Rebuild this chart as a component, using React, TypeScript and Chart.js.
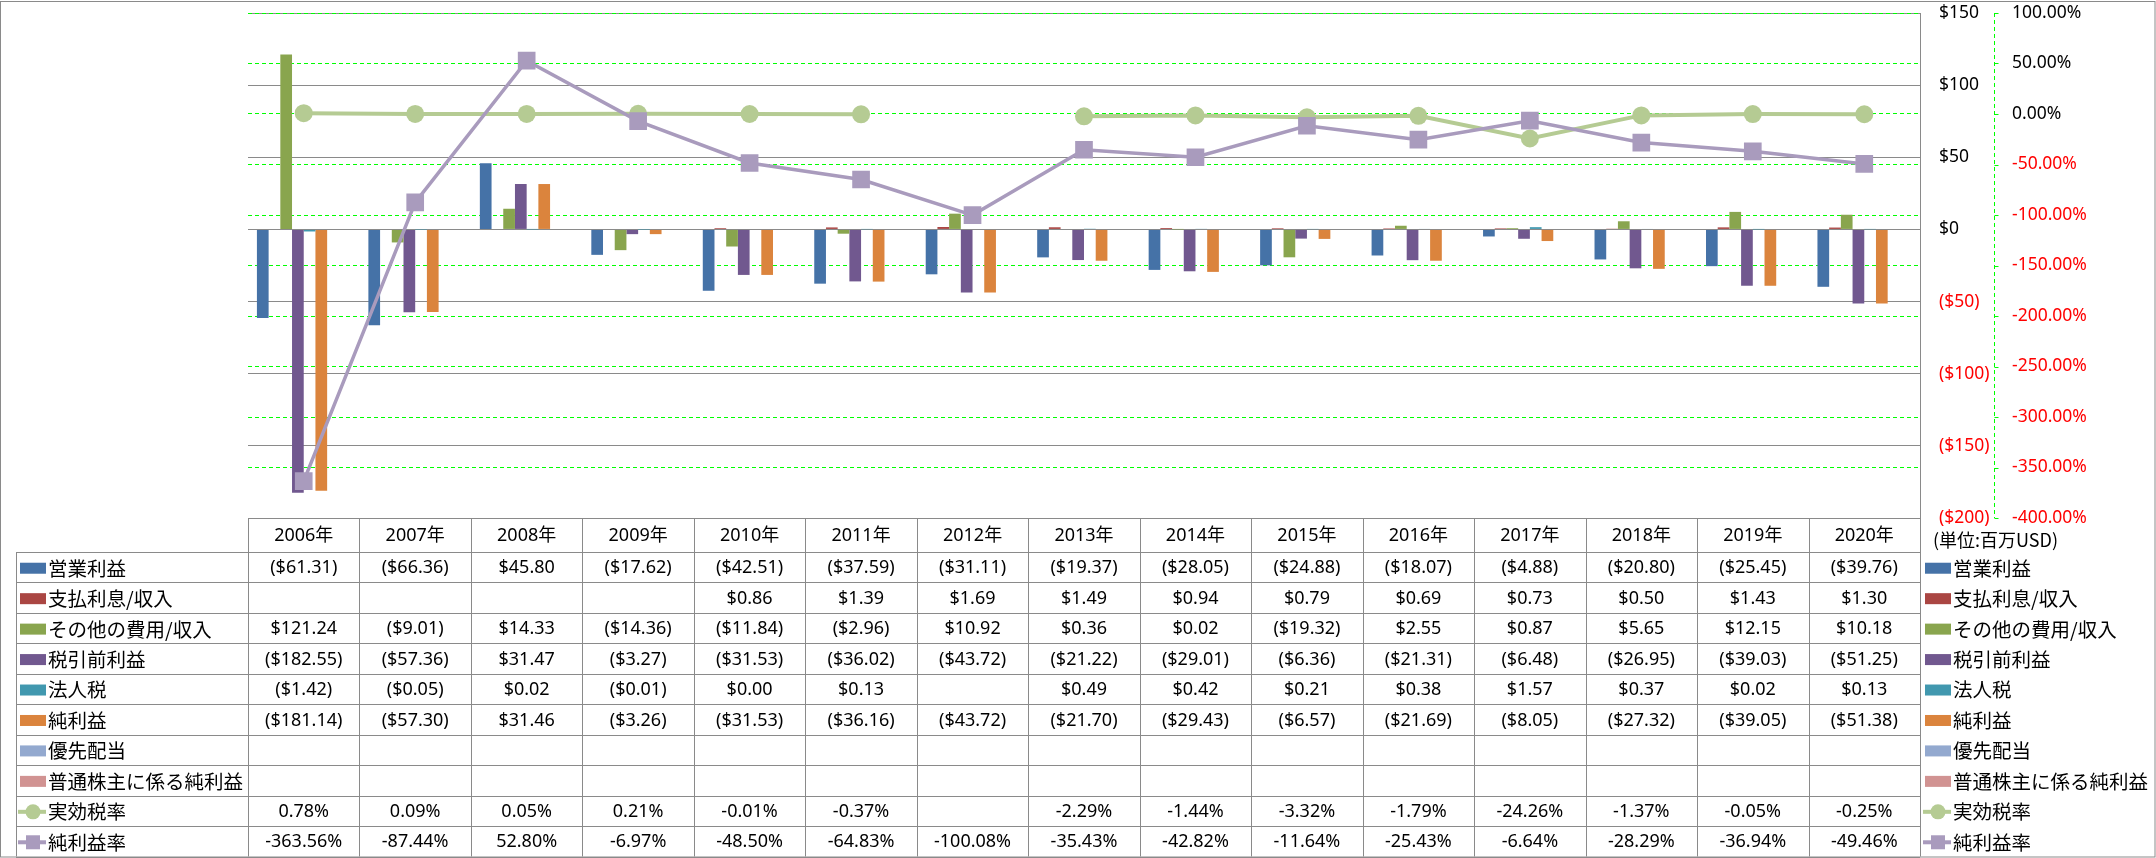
import React, { useEffect, useRef } from 'react';
import { Chart, registerables } from 'chart.js';

Chart.register(...registerables);

// ---------- data ----------
const years = ['2006年', '2007年', '2008年', '2009年', '2010年', '2011年', '2012年', '2013年', '2014年', '2015年', '2016年', '2017年', '2018年', '2019年', '2020年'];

const operatingIncome = [-61.31, -66.36, 45.80, -17.62, -42.51, -37.59, -31.11, -19.37, -28.05, -24.88, -18.07, -4.88, -20.80, -25.45, -39.76];
const interestExpense = [null, null, null, null, 0.86, 1.39, 1.69, 1.49, 0.94, 0.79, 0.69, 0.73, 0.50, 1.43, 1.30];
const otherIncome = [121.24, -9.01, 14.33, -14.36, -11.84, -2.96, 10.92, 0.36, 0.02, -19.32, 2.55, 0.87, 5.65, 12.15, 10.18];
const pretaxIncome = [-182.55, -57.36, 31.47, -3.27, -31.53, -36.02, -43.72, -21.22, -29.01, -6.36, -21.31, -6.48, -26.95, -39.03, -51.25];
const incomeTax = [-1.42, -0.05, 0.02, -0.01, 0.00, 0.13, null, 0.49, 0.42, 0.21, 0.38, 1.57, 0.37, 0.02, 0.13];
const netIncome = [-181.14, -57.30, 31.46, -3.26, -31.53, -36.16, -43.72, -21.70, -29.43, -6.57, -21.69, -8.05, -27.32, -39.05, -51.38];
const preferredDividends = [null, null, null, null, null, null, null, null, null, null, null, null, null, null, null];
const netIncomeToCommon = [null, null, null, null, null, null, null, null, null, null, null, null, null, null, null];
const effectiveTaxRate = [0.78, 0.09, 0.05, 0.21, -0.01, -0.37, null, -2.29, -1.44, -3.32, -1.79, -24.26, -1.37, -0.05, -0.25];
const netMargin = [-363.56, -87.44, 52.80, -6.97, -48.50, -64.83, -100.08, -35.43, -42.82, -11.64, -25.43, -6.64, -28.29, -36.94, -49.46];

const usdAxis = { min: -200, max: 150, step: 50 };
const pctAxis = { min: -400, max: 100, step: 50 };
const unitLabel = '(単位:百万USD)';

// ---------- styles ----------
const LATIN = '"Noto Sans", "Noto Sans CJK JP", sans-serif';
const CJK = '"Noto Sans CJK JP", "Noto Sans", sans-serif';
const GRID_GREY = '#8a8a8a';
const GREEN = '#00ff00';

const fmtUsd = (v: number) => (v < 0 ? `($${(-v).toFixed(2)})` : `$${v.toFixed(2)}`);
const fmtPct = (v: number) => `${v.toFixed(2)}%`;

function drawKey(ctx: CanvasRenderingContext2D, ds: any, x0: number, x1: number, cy: number) {
  if (ds.type === 'line') {
    ctx.save();
    ctx.strokeStyle = ds.borderColor;
    ctx.lineWidth = 4;
    ctx.beginPath();
    ctx.moveTo(x0 - 2, cy);
    ctx.lineTo(x1, cy);
    ctx.stroke();
    ctx.fillStyle = ds.backgroundColor;
    const cx = (x0 + x1) / 2;
    if (ds.pointStyle === 'circle') {
      ctx.beginPath();
      ctx.arc(cx, cy, 7.5, 0, Math.PI * 2);
      ctx.fill();
    } else {
      ctx.fillRect(cx - 7, cy - 7, 14, 14);
    }
    ctx.restore();
  } else {
    ctx.fillStyle = ds.backgroundColor;
    ctx.fillRect(x0, cy - 5.5, x1 - x0, 11);
  }
}

const tablePlugin = {
  id: 'dataTable',
  afterDraw(chart: any) {
    const { ctx, chartArea: a, scales } = chart;
    const xs = scales.x;
    const n = years.length;
    const catW = (a.right - a.left) / n;
    const tableLeft = 16;
    const headTop = Math.round(a.bottom) + 0.5;
    const headBottom = 552;
    const rowH = 30.45;
    const datasets = chart.data.datasets;
    const tableBottom = headBottom + rowH * datasets.length;
    const px = (v: number) => Math.round(v) + 0.5;

    ctx.save();
    // dashed secondary axis line + its tick marks
    const y1 = scales.y1;
    const ax = px(y1.left);
    ctx.strokeStyle = GREEN;
    ctx.lineWidth = 1;
    ctx.setLineDash([4, 3]);
    ctx.beginPath();
    ctx.moveTo(ax, a.top);
    ctx.lineTo(ax, a.bottom);
    ctx.stroke();
    ctx.setLineDash([]);
    ctx.beginPath();
    y1.ticks.forEach((t: any) => {
      const y = px(y1.getPixelForValue(t.value));
      ctx.moveTo(ax, y);
      ctx.lineTo(ax + 4, y);
    });
    ctx.stroke();

    // grid of table
    ctx.strokeStyle = GRID_GREY;
    ctx.lineWidth = 1;
    ctx.beginPath();
    ctx.moveTo(a.left, headTop);
    ctx.lineTo(a.right, headTop);
    for (let k = 0; k <= datasets.length; k++) {
      const y = px(headBottom + k * rowH);
      ctx.moveTo(tableLeft, y);
      ctx.lineTo(a.right, y);
    }
    for (let i = 0; i <= n; i++) {
      const x = px(a.left + i * catW);
      ctx.moveTo(x, headTop);
      ctx.lineTo(x, tableBottom);
    }
    ctx.moveTo(px(tableLeft), headBottom);
    ctx.lineTo(px(tableLeft), tableBottom);
    ctx.stroke();

    // header
    ctx.fillStyle = '#000';
    ctx.textAlign = 'center';
    ctx.textBaseline = 'middle';
    ctx.font = `18px ${LATIN}`;
    years.forEach((yr, i) => ctx.fillText(yr, xs.getPixelForValue(i), (headTop + headBottom) / 2 + 1));

    // rows
    datasets.forEach((ds: any, k: number) => {
      const cy = headBottom + k * rowH + rowH / 2 + 1;
      const fmt = ds.yAxisID === 'y1' ? fmtPct : fmtUsd;
      ctx.font = `18px ${LATIN}`;
      ctx.textAlign = 'center';
      ctx.fillStyle = '#000';
      ds.data.forEach((v: number | null, i: number) => {
        if (v === null || v === undefined) return;
        ctx.fillText(fmt(v), xs.getPixelForValue(i), cy);
      });
      drawKey(ctx, ds, 20, 46, cy);
      drawKey(ctx, ds, 1925, 1951, cy);
      ctx.font = `19.5px ${CJK}`;
      ctx.textAlign = 'left';
      ctx.fillStyle = '#000';
      ctx.fillText(ds.label, 48, cy);
      ctx.fillText(ds.label, 1953, cy);
    });

    ctx.font = `18px ${CJK}`;
    ctx.textAlign = 'left';
    ctx.fillText(unitLabel, 1933, 540);

    // outer border
    ctx.strokeStyle = GRID_GREY;
    ctx.strokeRect(0.5, 1.5, chart.width - 1.5, chart.height - 2.5);
    ctx.restore();
  },
};

export default function App() {
  const ref = useRef<HTMLCanvasElement | null>(null);

  useEffect(() => {
    document.body.style.margin = '0';
    if (!ref.current) return;
    Chart.defaults.font.family = LATIN;
    const bar = (label: string, data: (number | null)[], color: string) => ({
      type: 'bar' as const,
      label,
      data,
      backgroundColor: color,
      borderWidth: 0,
      yAxisID: 'y',
      order: 3,
      categoryPercentage: 0.84,
      barPercentage: 1,
    });
    const chart = new Chart(ref.current, {
      type: 'bar',
      data: {
        labels: years,
        datasets: [
          bar('営業利益', operatingIncome, '#4572a7'),
          bar('支払利息/収入', interestExpense, '#aa4643'),
          bar('その他の費用/収入', otherIncome, '#89a54e'),
          bar('税引前利益', pretaxIncome, '#71588f'),
          bar('法人税', incomeTax, '#4198af'),
          bar('純利益', netIncome, '#db843d'),
          bar('優先配当', preferredDividends, '#93a9cf'),
          bar('普通株主に係る純利益', netIncomeToCommon, '#d19392'),
          {
            type: 'line' as const,
            label: '実効税率',
            data: effectiveTaxRate,
            borderColor: '#b5cb93',
            backgroundColor: '#b5cb93',
            borderWidth: 4,
            pointStyle: 'circle',
            pointRadius: 9,
            pointBorderWidth: 0,
            tension: 0,
            spanGaps: false,
            yAxisID: 'y1',
            order: 2,
          },
          {
            type: 'line' as const,
            label: '純利益率',
            data: netMargin,
            borderColor: '#a99bbd',
            backgroundColor: '#a99bbd',
            borderWidth: 3.5,
            pointStyle: 'rect',
            pointRadius: 12.5,
            pointBorderWidth: 0,
            tension: 0,
            spanGaps: false,
            yAxisID: 'y1',
            order: 1,
          },
        ] as any,
      },
      options: {
        responsive: false,
        devicePixelRatio: 1,
        animation: false,
        layout: { padding: { left: 248, top: 13, right: 0, bottom: 340 } },
        plugins: { legend: { display: false }, tooltip: { enabled: false }, title: { display: false } },
        scales: {
          x: { display: false, offset: true },
          y: {
            position: 'right',
            weight: 0,
            min: usdAxis.min,
            max: usdAxis.max,
            ticks: {
              stepSize: usdAxis.step,
              padding: 0,
              font: { size: 17.5, family: LATIN },
              color: (c: any) => (c.tick && c.tick.value < 0 ? '#ff0000' : '#000000'),
              callback: (v: any) => (v < 0 ? `($${-v})` : `$${v}`),
            },
            grid: { color: GRID_GREY, lineWidth: 1, drawTicks: true, tickLength: 19, tickColor: 'rgba(0,0,0,0)', tickWidth: 0 },
            border: { display: true, color: GRID_GREY, width: 1 },
            afterFit: (s: any) => { s.width = 74; },
          },
          y1: {
            position: 'right',
            weight: 1,
            min: pctAxis.min,
            max: pctAxis.max,
            ticks: {
              stepSize: pctAxis.step,
              padding: 0,
              font: { size: 17.5, family: LATIN },
              color: (c: any) => (c.tick && c.tick.value < 0 ? '#ff0000' : '#000000'),
              callback: (v: any) => `${Number(v).toFixed(2)}%`,
            },
            grid: { color: GREEN, lineWidth: 1, drawTicks: true, tickLength: 18, tickColor: 'rgba(0,0,0,0)', tickWidth: 0 },
            border: { display: false, dash: [4, 3] },
            afterFit: (s: any) => { s.width = 162; },
          },
        },
      } as any,
      plugins: [tablePlugin],
    });
    return () => chart.destroy();
  }, []);

  return (
    <div style={{ position: 'absolute', left: 0, top: 0, width: 2156, height: 858 }}>
      <canvas ref={ref} width={2156} height={858} style={{ display: 'block', width: 2156, height: 858 }} />
    </div>
  );
}
